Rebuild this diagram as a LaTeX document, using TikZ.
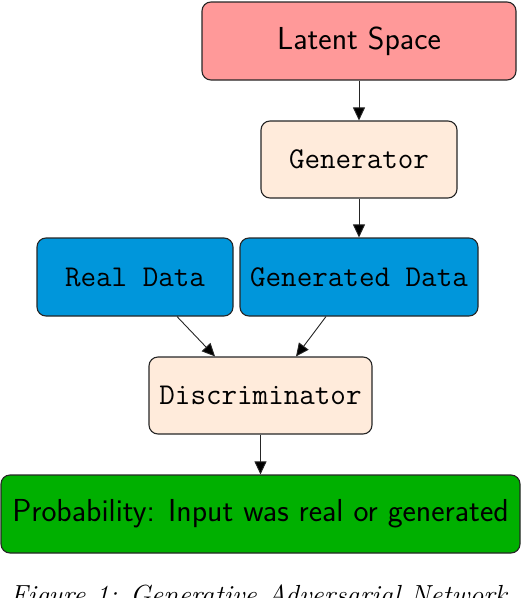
\documentclass[tikz,border=0pt]{standalone}
\usetikzlibrary{arrows.meta,calc}
\definecolor{latentc}{HTML}{FF9999}
\definecolor{peachc}{HTML}{FFEBDB}
\definecolor{bluec}{HTML}{0096DB}
\definecolor{greenc}{HTML}{00B000}
\definecolor{edgec}{HTML}{262626}
\begin{document}
\begin{tikzpicture}[x=1pt,y=-1pt,
  box/.style={draw=edgec,line width=1.1pt,rounded corners=9pt,inner sep=0pt,align=center},
  sansbox/.style={box,font=\fontsize{31.8}{34}\selectfont\sffamily},
  ttbox/.style={box,font=\fontsize{30.2}{33}\selectfont\ttfamily},
  arr/.style={line width=0.9pt,draw=edgec,-{Triangle[length=13pt,width=12pt,fill=black]}},
  captiontext/.style={font=\fontsize{27.6}{30}\selectfont\itshape,anchor=base west,inner sep=0pt}]
\useasboundingbox (0,0) rectangle (522,598);
\clip (0,0) rectangle (522,598);
\node[sansbox,fill=latentc,minimum width=314pt,minimum height=78pt] (latent) at (359,41) {Latent Space};
\node[ttbox,fill=peachc,minimum width=196pt,minimum height=77pt] (gen) at (359,159.5) {Generator};
\node[ttbox,fill=bluec,minimum width=196pt,minimum height=78pt] (real) at (135,277) {Real Data};
\node[ttbox,fill=bluec,minimum width=238pt,minimum height=78pt] (gdata) at (359,277) {Generated Data};
\node[ttbox,fill=peachc,minimum width=223pt,minimum height=77pt] (disc) at (260.5,395.5) {Discriminator};
\node[sansbox,fill=greenc,minimum width=519pt,minimum height=78pt] (prob) at (260.5,514) {Probability: Input was real or generated};
\draw[arr] (latent.south) -- (gen.north);
\draw[arr] (gen.south) -- (gdata.north);
\draw[arr] ($(real.south)+(42,0)$) -- ($(disc.north)+(-45.5,0)$);
\draw[arr] ($(gdata.south)+(-33,0)$) -- ($(disc.north)+(35.5,0)$);
\draw[arr] (disc.south) -- (prob.north);
\node[captiontext] (caption) at (10,604.5) {Figure 1: Generative Adversarial Network};
\end{tikzpicture}
\end{document}
